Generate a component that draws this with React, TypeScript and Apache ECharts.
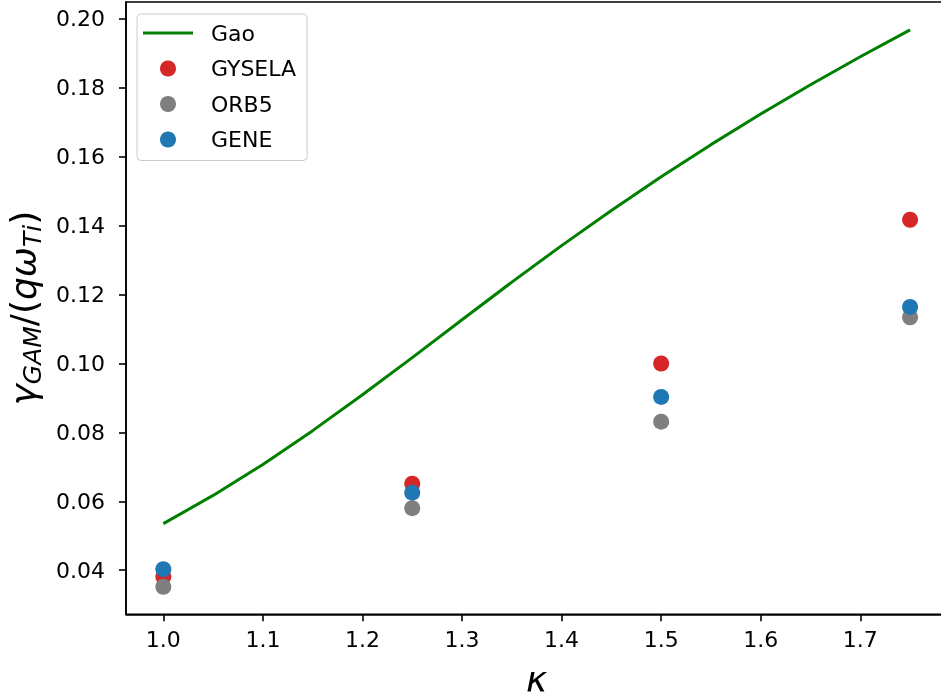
import React, { useEffect, useRef } from "react";
import * as echarts from "echarts";

const kappaGao = [1.0, 1.05, 1.1, 1.15, 1.2, 1.25, 1.3, 1.35, 1.4, 1.45, 1.5, 1.55, 1.6, 1.65, 1.7, 1.75];
const gao = [0.0535, 0.0617, 0.0707, 0.0805, 0.0909, 0.1017, 0.1127, 0.1236, 0.1342, 0.1444, 0.1542, 0.1635, 0.1724, 0.1809, 0.189, 0.1968];

const kappaSim = [1.0, 1.25, 1.5, 1.75];
const gysela = [0.0381, 0.0651, 0.1, 0.1417];
const orb5 = [0.0352, 0.058, 0.0831, 0.1134];
const gene = [0.0403, 0.0625, 0.0903, 0.1164];

const xTicks = [1.0, 1.1, 1.2, 1.3, 1.4, 1.5, 1.6, 1.7];
const yTicks = [0.04, 0.06, 0.08, 0.1, 0.12, 0.14, 0.16, 0.18, 0.2];

const FONT = "DejaVu Sans";

export default function App() {
  const ref = useRef<HTMLDivElement>(null);
  useEffect(() => {
    document.body.style.margin = "0";
    const chart = echarts.init(ref.current!, null, { renderer: "svg" });
    const pair = (xs: number[], ys: number[]) => xs.map((x, i) => [x, ys[i]]);
    chart.setOption({
      animation: false,
      textStyle: { fontFamily: FONT },
      grid: {
        left: 126,
        top: 2,
        right: 2.6,
        bottom: 84.7,
        containLabel: false,
        outerBoundsMode: "none",
        show: true,
        borderColor: "#000",
        borderWidth: 1.6,
        backgroundColor: "#fff",
      },
      legend: {
        orient: "vertical",
        left: 137,
        top: 14,
        padding: [8, 11, 10, 6],
        itemWidth: 50,
        itemHeight: 16,
        itemGap: 13.5,
        backgroundColor: "rgba(255,255,255,0.8)",
        borderColor: "#cccccc",
        borderWidth: 1,
        borderRadius: 4,
        textStyle: { fontSize: 22, color: "#000", fontFamily: FONT, padding: [0, 0, 0, 13] },
        data: [
          { name: "Gao", icon: "path://M0 0H50V3H0Z" },
          { name: "GYSELA" },
          { name: "ORB5" },
          { name: "GENE" },
        ],
      },
      xAxis: {
        type: "value",
        min: 0.9625,
        max: 1.7875,
        name: "κ",
        nameLocation: "middle",
        nameGap: 47,
        nameTextStyle: { fontSize: 36, fontStyle: "italic", color: "#000", fontFamily: FONT },
        axisLine: { show: true, lineStyle: { color: "#000", width: 1.6 } },
        axisTick: { show: true, length: 7, lineStyle: { color: "#000", width: 1.6 }, customValues: xTicks },
        axisLabel: {
          fontSize: 22,
          color: "#000",
          margin: 14,
          fontFamily: FONT,
          customValues: xTicks,
          formatter: (v: number) => v.toFixed(1),
        },
        splitLine: { show: false },
      },
      yAxis: {
        type: "value",
        min: 0.0272,
        max: 0.2049,
        name: "{m|γ}{s|GAM}{n|/(}{m|qω}{s|Ti}{n|)}",
        nameLocation: "middle",
        nameRotate: 90,
        nameGap: 78,
        nameTextStyle: {
          color: "#000",
          rich: {
            m: { fontSize: 36, fontStyle: "italic", fontFamily: FONT, lineHeight: 44, color: "#000" },
            n: { fontSize: 36, fontFamily: FONT, lineHeight: 44, color: "#000" },
            s: { fontSize: 25, fontStyle: "italic", fontFamily: FONT, lineHeight: 25, verticalAlign: "bottom", color: "#000" },
          },
        },
        axisLine: { show: true, lineStyle: { color: "#000", width: 1.6 } },
        axisTick: { show: true, length: 7, lineStyle: { color: "#000", width: 1.6 }, customValues: yTicks },
        axisLabel: {
          fontSize: 22,
          color: "#000",
          margin: 21,
          fontFamily: FONT,
          customValues: yTicks,
          formatter: (v: number) => v.toFixed(2),
        },
        splitLine: { show: false },
      },
      series: [
        {
          name: "Gao",
          type: "line",
          data: pair(kappaGao, gao),
          symbol: "none",
          lineStyle: { color: "#008000", width: 3 },
          itemStyle: { color: "#008000" },
        },
        {
          name: "GYSELA",
          type: "scatter",
          data: pair(kappaSim, gysela),
          symbolSize: 16,
          itemStyle: { color: "#d62728", opacity: 1 },
        },
        {
          name: "ORB5",
          type: "scatter",
          data: pair(kappaSim, orb5),
          symbolSize: 16,
          itemStyle: { color: "#7f7f7f", opacity: 1 },
        },
        {
          name: "GENE",
          type: "scatter",
          data: pair(kappaSim, gene),
          symbolSize: 16,
          itemStyle: { color: "#1f77b4", opacity: 1 },
        },
      ],
    });
    return () => chart.dispose();
  }, []);
  return <div ref={ref} style={{ position: "fixed", left: 0, top: 0, width: 950, height: 699 }} />;
}
